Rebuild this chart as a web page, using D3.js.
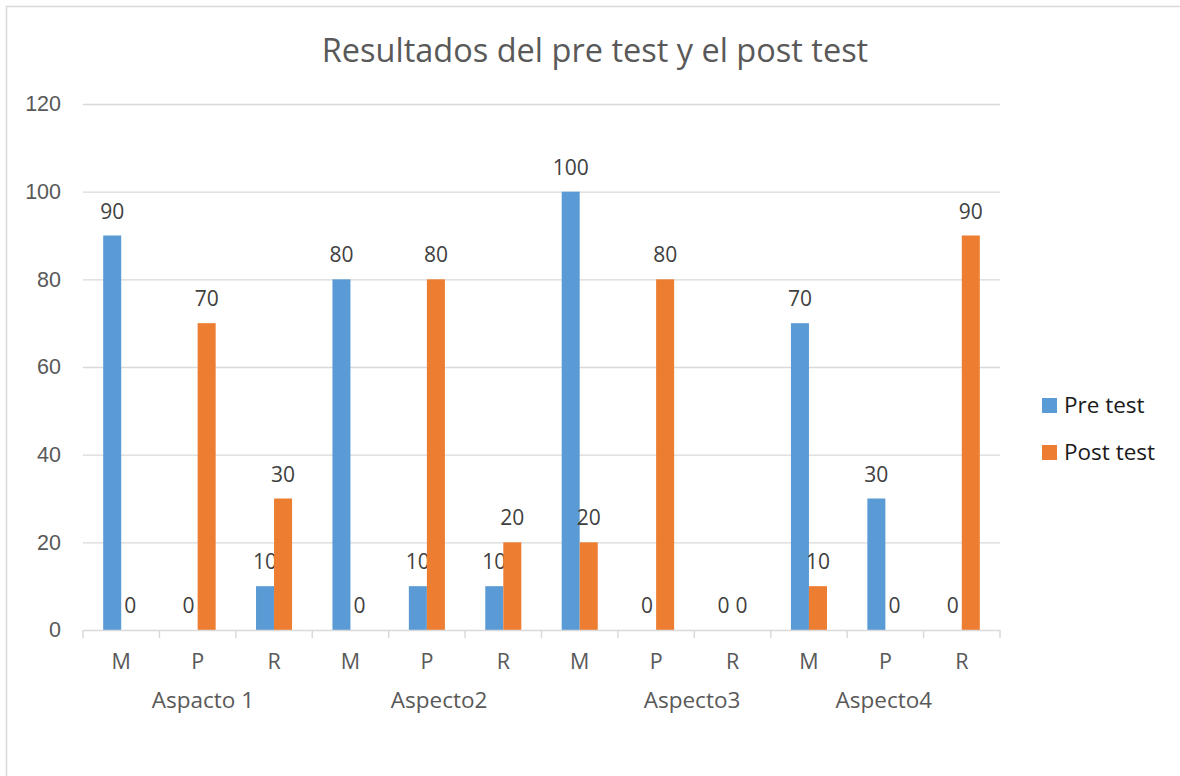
<!DOCTYPE html>
<html><head><meta charset="utf-8">
<script src="https://cdn.jsdelivr.net/npm/d3@7/dist/d3.min.js"></script>
<style>
html,body{margin:0;padding:0;background:#fff;}
svg{display:block;font-family:"Open Sans",Lato,sans-serif;}
</style></head>
<body><svg id="c" width="1180" height="776"></svg>
<script>
const categories = ["M","P","R","M","P","R","M","P","R","M","P","R"];
const groups = ["Aspacto 1","Aspecto2","Aspecto3","Aspecto4"];
const seriesNames = ["Pre test","Post test"];
const preTest  = [90,0,10,80,10,10,100,0,0,70,30,0];
const postTest = [0,70,30,0,80,20,20,80,0,10,0,90];
const yTicks = [0,20,40,60,80,100,120];
const colors = ["#5b9bd5","#ed7d31"];

(function(){
const svg = d3.select("#c");
const pl = 83, pr = 1000, pt = 104, pb = 630;
// where each group label sits, in category-step units from the left of the axis
const groupLabelPos = [1.57, 4.66, 7.97, 10.48];

svg.append("rect").attr("x",6.5).attr("y",6.5).attr("width",1300).attr("height",900)
  .attr("fill","none").attr("stroke","#d9d9d9").attr("stroke-width",1.5);

svg.append("text").attr("x",595).attr("y",62).attr("text-anchor","middle")
  .attr("font-size",32.5).attr("fill","#595959").text("Resultados del pre test y el post test");

const idx = d3.range(categories.length);
const x0 = d3.scaleBand().domain(idx).range([pl,pr]).paddingInner(0).paddingOuter(0);
const x1 = d3.scaleBand().domain([0,1]).range([0,x0.bandwidth()]).paddingInner(0).paddingOuter(1.12);
const y = d3.scaleLinear().domain([0,120]).range([pb,pt]);

svg.append("g").selectAll("line").data(yTicks.filter(d=>d>0)).join("line")
  .attr("x1",pl).attr("x2",pr).attr("y1",d=>y(d)+0.5).attr("y2",d=>y(d)+0.5)
  .attr("stroke","#d9d9d9").attr("stroke-width",1.3);

const yAxis = d3.axisLeft(y).tickValues(yTicks).tickSize(0).tickPadding(22);
const ga = svg.append("g").attr("transform",`translate(${pl},0)`).call(yAxis);
ga.select(".domain").remove();
ga.selectAll("text").attr("font-size",21.5).attr("fill","#595959").attr("font-family","inherit");

const series = [preTest, postTest];
series.forEach((vals,s)=>{
  svg.append("g").selectAll("rect").data(vals).join("rect")
    .attr("x",(d,i)=>x0(i)+x1(s)).attr("width",x1.bandwidth())
    .attr("y",d=>y(d)).attr("height",d=>pb-y(d)).attr("fill",colors[s]);
  svg.append("g").selectAll("text").data(vals).join("text")
    .attr("x",(d,i)=>x0(i)+x1(s)+x1.bandwidth()/2).attr("y",d=>y(d)-17)
    .attr("text-anchor","middle").attr("font-size",21).attr("fill","#404040").text(d=>d);
});

const xb = svg.append("g");
xb.append("line").attr("x1",pl).attr("x2",pr).attr("y1",pb+0.5).attr("y2",pb+0.5)
  .attr("stroke","#d9d9d9").attr("stroke-width",1.5);
xb.selectAll("line.t").data(d3.range(categories.length+1)).join("line").attr("class","t")
  .attr("x1",i=>pl+i*x0.step()).attr("x2",i=>pl+i*x0.step())
  .attr("y1",pb).attr("y2",pb+8).attr("stroke","#d9d9d9").attr("stroke-width",1.5);
xb.selectAll("text.c").data(categories).join("text").attr("class","c")
  .attr("x",(d,i)=>x0(i)+x0.bandwidth()/2).attr("y",669).attr("text-anchor","middle")
  .attr("font-size",21.5).attr("fill","#595959").text(d=>d);
xb.selectAll("text.g").data(groups).join("text").attr("class","g")
  .attr("x",(d,i)=>pl+groupLabelPos[i]*x0.step()).attr("y",708).attr("text-anchor","middle")
  .attr("font-size",22.5).attr("fill","#595959").text(d=>d);

const lg = svg.append("g");
seriesNames.forEach((n,i)=>{
  lg.append("rect").attr("x",1042).attr("y",398+i*47).attr("width",15).attr("height",15).attr("fill",colors[i]);
  lg.append("text").attr("x",1064).attr("y",413+i*47).attr("font-size",22.5).attr("fill","#1a1a1a").text(n);
});
})();
</script></body></html>
